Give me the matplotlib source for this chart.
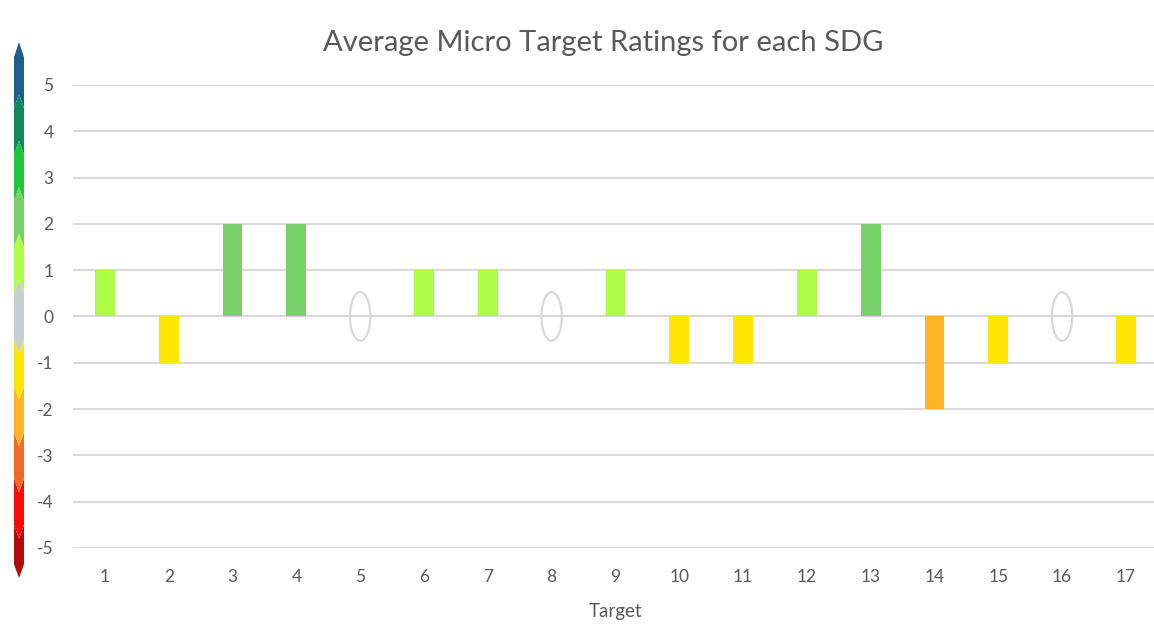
import matplotlib
matplotlib.use("Agg")
from matplotlib import pyplot as plt
from matplotlib.patches import Ellipse, Polygon
import numpy as np

# data
targets = list(range(1, 18))
ratings = [1, -1, 2, 2, 0, 1, 1, 0, 1, -1, -1, 1, 2, -2, -1, 0, -1]

# colour for each rating value (-5 .. 5)
scale_values = [-5, -4, -3, -2, -1, 0, 1, 2, 3, 4, 5]
scale_colors = ['#B00B0B', '#F70A0A', '#F26A2A', '#FFB327', '#FFE600', '#C9CED3',
                '#ADFB45', '#79D06A', '#1DC63A', '#0E8A5C', '#1F5F8D']
color_of = dict(zip(scale_values, scale_colors))

plt.rcParams['font.family'] = ['Lato', 'DejaVu Sans']
plt.rcParams['axes.unicode_minus'] = False
text_grey = '#595959'
grid_grey = '#D9D9D9'

fig = plt.figure(figsize=(11.54, 6.28), dpi=100)
ax = fig.add_axes([0.0633, 0.1274, 0.940, 0.7373])

for t, r in zip(targets, ratings):
    if r == 0:
        ax.add_patch(Ellipse((t, 0), 0.32, 1.05, fill=False, edgecolor=grid_grey,
                             lw=1.6, zorder=3))
    else:
        ax.bar(t, r, width=0.31, color=color_of[r], zorder=3)

ax.set_xlim(0.5, 17.5)
ax.set_ylim(-5, 5)
ax.set_yticks(range(-5, 6))
ax.set_xticks(targets)
ax.yaxis.grid(True, color=grid_grey, lw=1.5)
ax.set_axisbelow(True)
for s in ax.spines.values():
    s.set_visible(False)
ax.tick_params(axis='both', length=0, labelsize=12.5, labelcolor=text_grey)
ax.tick_params(axis='y', pad=14)
ax.tick_params(axis='x', pad=15)
ax.set_xlabel('Target', fontsize=13.5, color=text_grey, labelpad=13)
fig.suptitle('Average Micro Target Ratings for each SDG', fontsize=21,
             color=text_grey, x=0.523, y=0.953)

# colour scale arrow on the left, same vertical scale as the chart
cb = fig.add_axes([0.01213, 0.1274, 0.00867, 0.7373])
cb.set_xlim(0, 1)
cb.set_ylim(-5, 5)
cb.axis('off')
h = 0.3
for v, c in zip(scale_values, scale_colors):
    if v > 0:
        top = v + 0.5
        bot = v - 0.5
        if v == 5:
            pts = [(0, bot), (0, 5.6), (0.5, 5.93), (1, 5.6), (1, bot), (0.5, bot + h)]
        else:
            pts = [(0, bot), (0, top), (0.5, top + h), (1, top), (1, bot), (0.5, bot + h)]
    elif v < 0:
        top = v + 0.5
        bot = v - 0.5
        if v == -5:
            pts = [(0, top), (0.5, top - h), (1, top), (1, -5.35), (0.5, -5.65), (0, -5.35)]
        else:
            pts = [(0, top), (0.5, top - h), (1, top), (1, bot), (0.5, bot - h), (0, bot)]
    else:
        pts = [(0, -0.5), (0, 0.5), (0.5, 0.5 + h), (1, 0.5), (1, -0.5), (0.5, -0.5 - h)]
    cb.add_patch(Polygon(pts, closed=True, facecolor=c, edgecolor='none', clip_on=False))

fig.savefig('out.png', dpi=100)
